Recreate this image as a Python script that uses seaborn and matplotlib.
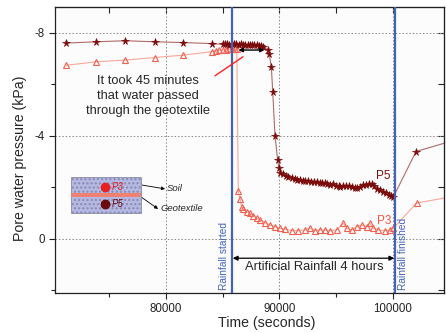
import matplotlib
matplotlib.use("Agg")
import matplotlib.pyplot as plt
import matplotlib.patches as mpatches
from matplotlib.ticker import MultipleLocator
import pandas as pd
import seaborn as sns

# P5 (geotextile) pore water pressure, kPa
p5_time = [71200, 73800, 76400, 79000, 81500, 84100,
           85000, 85200, 85400, 85600, 85800, 86000, 86200, 86400, 86600, 86800,
           87000, 87200, 87400, 87600, 87800, 88000, 88200, 88400, 88560,
           89030, 89120, 89300, 89420, 89620, 89860, 89970,
           90060, 90300, 90550, 90800, 91100, 91350, 91600, 91850, 92100, 92300,
           92550, 92800, 93050, 93300, 93550, 93750, 94000, 94250, 94500, 94750,
           95000, 95250, 95400, 95650, 95900, 96150, 96400, 96650, 96850, 97100,
           97400, 97650, 97900, 98150, 98400, 98650, 98900, 99150, 99400, 99650,
           99850, 100060, 102070, 105000]
p5_pwp = [-7.60, -7.65, -7.69, -7.65, -7.62, -7.58,
          -7.55, -7.56, -7.55, -7.54, -7.55, -7.56, -7.55, -7.54, -7.55, -7.54,
          -7.53, -7.54, -7.53, -7.52, -7.52, -7.51, -7.50, -7.48, -7.45,
          -7.33, -7.16, -6.66, -5.72, -4.00, -3.05, -2.75,
          -2.56, -2.50, -2.45, -2.40, -2.36, -2.33, -2.30, -2.27, -2.25, -2.23,
          -2.24, -2.21, -2.19, -2.20, -2.17, -2.16, -2.18, -2.13, -2.10, -2.12,
          -2.07, -2.05, -2.03, -2.06, -2.04, -2.07, -2.02, -1.98, -1.97, -2.03,
          -2.10, -2.11, -2.12, -2.14, -2.05, -1.95, -1.88, -1.83, -1.78, -1.72,
          -1.68, -1.62, -3.39, -3.77]

# P3 (soil) pore water pressure, kPa
p3_time = [71200, 73800, 76400, 79000, 81500, 84100,
           84400, 84700, 85000, 85300, 85550, 85800, 86050, 86250,
           86380, 86530, 86680, 86820, 87120, 87410, 87710, 88000, 88300, 88740,
           89180, 89620, 90060, 90500, 91090, 91680, 92270, 92710, 93150, 93590,
           94030, 94470, 95070, 95650, 95950, 96390, 96830, 97270, 97710, 98000,
           98300, 98740, 99330, 99770, 100060, 102120, 105000]
p3_pwp = [-6.74, -6.87, -6.94, -7.04, -7.13, -7.27,
          -7.30, -7.32, -7.33, -7.35, -7.36, -7.37, -7.38, -7.36,
          -1.86, -1.54, -1.25, -1.15, -1.06, -1.00, -0.89, -0.80, -0.74, -0.63,
          -0.54, -0.48, -0.41, -0.38, -0.32, -0.32, -0.35, -0.41, -0.32, -0.35,
          -0.33, -0.32, -0.35, -0.61, -0.41, -0.35, -0.48, -0.54, -0.48, -0.61,
          -0.41, -0.35, -0.32, -0.35, -0.41, -1.39, -1.62]

rain_start = 85800
rain_end = 100250
lag_start = 86400
lag_end = 88700

p5 = pd.DataFrame({"time": p5_time, "pwp": p5_pwp})
p3 = pd.DataFrame({"time": p3_time, "pwp": p3_pwp})

sns.set_style("ticks")
plt.rcParams["font.family"] = ["Liberation Sans", "DejaVu Sans"]
plt.rcParams["axes.unicode_minus"] = False

fig = plt.figure(figsize=(4.46, 3.33), dpi=100)
ax = fig.add_axes([55 / 446, 40 / 333, 389 / 446, 286 / 333])
ax.set_facecolor("#fcfcfc")

sns.lineplot(data=p3, x="time", y="pwp", ax=ax, sort=False, color="#f7a898",
             linewidth=0.8, marker="^", markersize=5, markerfacecolor="none",
             markeredgecolor="#f06050", markeredgewidth=0.8)
sns.lineplot(data=p5, x="time", y="pwp", ax=ax, sort=False, color="#b06a6a",
             linewidth=0.8, marker="*", markersize=5.5, markerfacecolor="#7a0a0a",
             markeredgecolor="#7a0a0a", markeredgewidth=0.5)

ax.set_xlim(70200, 104540)
ax.set_ylim(2.1, -9.0)

# rainfall markers
blue = "#4463b8"
ax.axvline(rain_start, color=blue, lw=1.6, zorder=5)
ax.axvline(rain_end, color=blue, lw=1.6, zorder=5)
ax.text(85120, 2.0, "Rainfall started", rotation=90, color=blue, fontsize=7.3,
        ha="center", va="bottom")
ax.text(100920, 2.0, "Rainfall finished", rotation=90, color=blue, fontsize=7.3,
        ha="center", va="bottom")

ax.annotate("", xy=(rain_end - 100, 0.75), xytext=(rain_start + 90, 0.75),
            arrowprops=dict(arrowstyle="<|-|>", color="black", lw=0.9,
                            mutation_scale=7, shrinkA=0, shrinkB=0))
ax.text(93050, 1.1, "Artificial Rainfall 4 hours", fontsize=9.3,
        ha="center", va="center")

ax.annotate("", xy=(lag_end, -7.33), xytext=(lag_start, -7.33),
            arrowprops=dict(arrowstyle="<|-|>", color="black", lw=1.0,
                            mutation_scale=6, shrinkA=0, shrinkB=0), zorder=6)
ax.text(78410, -5.55, "It took 45 minutes\nthat water passed\nthrough the geotextile",
        fontsize=9.3, ha="center", va="center", linespacing=1.3)
ax.plot([84325, 86800], [-6.33, -7.07], color="#ff2020", lw=1.0, zorder=6)

ax.text(99150, -2.45, "P5", color="#7a1010", fontsize=8.5, ha="center", va="center")
ax.text(99240, -0.71, "P3", color="#ff5040", fontsize=8.5, ha="center", va="center")

# schematic of sensor layout
tr = ax.transAxes
ax.add_patch(mpatches.Rectangle((0.040, 0.281), 0.181, 0.124, transform=tr,
                                facecolor="#b4b8e4", edgecolor="#8a8aa8",
                                hatch="....", lw=0.6, zorder=6))
ax.add_patch(mpatches.Rectangle((0.040, 0.337), 0.181, 0.012, transform=tr,
                                facecolor="#f08070", edgecolor="none", zorder=7))
ax.plot(0.1285, 0.372, "o", transform=tr, color="#e82020", ms=6, zorder=8)
ax.plot(0.1285, 0.312, "o", transform=tr, color="#6a0a0a", ms=6, zorder=8)
ax.text(0.146, 0.372, "P3", transform=tr, color="#e82020", fontsize=7,
        style="italic", va="center", zorder=8)
ax.text(0.146, 0.312, "P5", transform=tr, color="#6a0a0a", fontsize=7,
        style="italic", va="center", zorder=8)
ax.annotate("", xy=(0.283, 0.364), xytext=(0.221, 0.378), xycoords=tr,
            textcoords=tr,
            arrowprops=dict(arrowstyle="-|>", color="black", lw=0.6,
                            mutation_scale=5, shrinkA=0, shrinkB=0))
ax.text(0.288, 0.364, "Soil", transform=tr, fontsize=6.8, style="italic",
        va="center")
ax.annotate("", xy=(0.265, 0.294), xytext=(0.221, 0.336), xycoords=tr,
            textcoords=tr,
            arrowprops=dict(arrowstyle="-|>", color="black", lw=0.6,
                            mutation_scale=5, shrinkA=0, shrinkB=0))
ax.text(0.272, 0.294, "Geotextile", transform=tr, fontsize=6.8, style="italic",
        va="center")

# axes styling
ax.xaxis.set_major_locator(MultipleLocator(10000))
ax.xaxis.set_minor_locator(MultipleLocator(5000))
ax.yaxis.set_major_locator(MultipleLocator(4))
ax.yaxis.set_minor_locator(MultipleLocator(2))
ax.grid(True, which="major", color="#888888", linestyle=(0, (1.5, 2)), lw=0.7)
ax.tick_params(which="both", direction="out", labelsize=8.3, width=0.8,
               colors="#222222", top=False, right=False)
ax.tick_params(which="major", length=4)
ax.tick_params(which="minor", length=3)
for side in ["left", "bottom", "top", "right"]:
    ax.spines[side].set_visible(True)
    ax.spines[side].set_linewidth(0.9)
    ax.spines[side].set_color("#222222")

# inward ticks on the mirrored top/right axes
top = ax.secondary_xaxis("top")
top.xaxis.set_major_locator(MultipleLocator(5000))
top.tick_params(direction="in", length=4, labeltop=False, width=0.8)
right = ax.secondary_yaxis("right")
right.yaxis.set_major_locator(MultipleLocator(2))
right.tick_params(direction="in", length=4, labelright=False, width=0.8)

ax.set_xlabel("Time (seconds)", fontsize=10.2)
ax.set_ylabel("Pore water pressure (kPa)", fontsize=10.2)
ax.xaxis.set_label_coords(0.545, -0.08)
ax.yaxis.set_label_coords(-0.072, 0.47)

fig.savefig("out.png", dpi=100)
